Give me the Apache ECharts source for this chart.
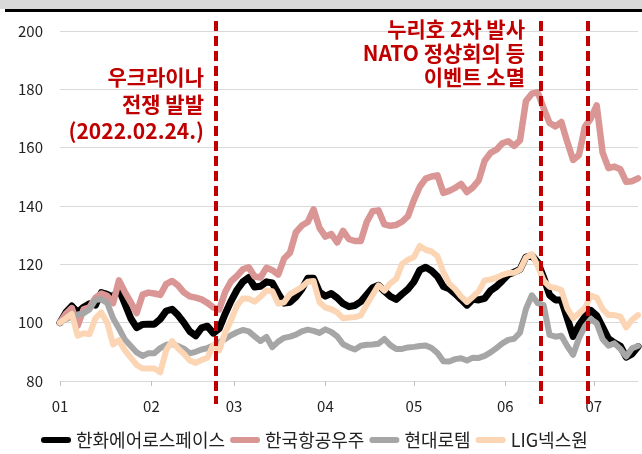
<!DOCTYPE html>
<html>
<head>
<meta charset="utf-8">
<script src="https://cdn.jsdelivr.net/npm/echarts@6/dist/echarts.min.js"></script>
<style>
  html, body { margin: 0; padding: 0; background: #fff; }
  #main { width: 642px; height: 454px; }
</style>
</head>
<body>
<div id="main"></div>
<script>
// 2022, 2-day samples (MM-DD)
const dates = [
  '01-01', '01-03', '01-05', '01-07', '01-09', '01-11', '01-13', '01-15', '01-17', '01-19', '01-21', '01-23', '01-25', '01-27', '01-29', '01-31',
  '02-02', '02-04', '02-06', '02-08', '02-10', '02-12', '02-14', '02-16', '02-18', '02-20', '02-22', '02-24', '02-26', '02-28',
  '03-02', '03-04', '03-06', '03-08', '03-10', '03-12', '03-14', '03-16', '03-18', '03-20', '03-22', '03-24', '03-26', '03-28', '03-30',
  '04-01', '04-03', '04-05', '04-07', '04-09', '04-11', '04-13', '04-15', '04-17', '04-19', '04-21', '04-23', '04-25', '04-27', '04-29',
  '05-01', '05-03', '05-05', '05-07', '05-09', '05-11', '05-13', '05-15', '05-17', '05-19', '05-21', '05-23', '05-25', '05-27', '05-29', '05-31',
  '06-02', '06-04', '06-06', '06-08', '06-10', '06-12', '06-14', '06-16', '06-18', '06-20', '06-22', '06-24', '06-26', '06-28', '06-30',
  '07-02', '07-04', '07-06', '07-08', '07-10', '07-12', '07-14', '07-16'
]

const hanwha = [
  100, 103.5, 105.7, 103.5, 105.3, 106.5, 106, 110.3, 109.7, 108.8, 111.5, 106.5, 101.5, 98.3, 99.4, 99.5,
  99.5, 101.2, 104, 104.6, 102.6, 100, 97, 95.5, 98.2, 98.8, 96.4, 98, 103, 107.4,
  111.2, 114, 115.5, 112.2, 112.5, 114, 113.6, 110, 106.7, 107, 108.8, 111.5, 115.2, 115.2, 110.5,
  109.1, 110, 108.5, 106.5, 105.5, 105.9, 107.2, 109.6, 112, 112.8, 110.8, 109, 108, 109.8, 111.5,
  114, 118, 119, 117.8, 115.8, 112.4, 111.6, 109.9, 108, 106, 108, 107.8, 108.3, 111, 112.4, 114.4,
  116.5, 117.3, 118.3, 122.5, 123, 120.7, 115.5, 109.5, 107.8, 107.8, 101.5, 95.3, 99.2, 102, 104.2,
  102.4, 98.5, 94.5, 93.1, 92, 88.2, 89.3, 91.8
]

const kai = [
  100, 103, 105, 99, 104.6, 105.3, 108.5, 110, 109.2, 106.7, 114.5, 110.5, 107, 103.3, 109.6, 110.3,
  110, 109.5, 113.2, 114.3, 112.8, 110.4, 109, 108.6, 108, 106.8, 105.2, 104.5, 110.5, 114.2,
  116, 118.3, 119, 115.8, 115.5, 118.8, 118, 116.5, 122, 124, 131, 133.3, 134.5, 138.8, 132.5,
  129.5, 130.4, 127.5, 131.5, 128.6, 128, 128, 134.5, 138.2, 138.5, 133.7, 133.2, 133.5, 134.6, 136.5,
  142, 146.6, 149.4, 150.1, 150.5, 144.5, 145.2, 146.2, 147.6, 144.8, 146.4, 148.8, 155.5, 158.2, 159.3, 161.5,
  162.2, 160.6, 162.5, 176, 178.5, 179, 173.5, 168.5, 167.3, 168.8, 162, 155.8, 157.5, 167.2, 170,
  174.5, 158.3, 153, 153.5, 152.6, 148.3, 148.5, 149.5
]

const rotem = [
  100, 101.2, 102, 102.8, 103.2, 104.5, 107.8, 108, 106.8, 101.5, 98, 94.2, 92, 89.8, 88.6, 89.5,
  89.5, 91.3, 92.4, 92.7, 92, 91.1, 89.5, 90, 90.8, 91.3, 92.2, 93.3, 94.4, 95.7,
  96.7, 97.5, 97, 95.3, 93.7, 95.1, 91.6, 93.5, 94.8, 95.2, 95.9, 97, 97.6, 97.2, 96.5,
  97.7, 96.8, 95.3, 92.6, 91.6, 90.8, 92.1, 92.4, 92.5, 92.8, 94.4, 92.3, 91, 91, 91.5,
  91.7, 92, 92.2, 91.3, 89.6, 86.8, 86.7, 87.5, 87.8, 87, 88, 87.9, 88.6, 89.8, 91.3, 92.9,
  94.1, 94.5, 96.6, 104.7, 109.4, 106.7, 106, 95.8, 95.2, 95.5, 92, 89, 94.7, 98.7, 101.2,
  99.8, 94.3, 92.1, 92.9, 91, 88.4, 91.2, 92
]

const lig = [
  100, 101.5, 103, 95.5, 96.4, 96, 101.5, 103.5, 100, 92.5, 94, 90.5, 88, 85.5, 84.3, 84.3,
  84.3, 83, 90.5, 93.7, 91.2, 89.3, 87, 86.2, 87.2, 88, 92.4, 90.5, 96.5, 100.8,
  105.8, 108.3, 108.2, 107.2, 108.9, 111, 110.8, 106.5, 107, 109.8, 111, 112.2, 114, 114.3, 107,
  105.2, 104.6, 103.5, 101.5, 101.8, 101.9, 102.5, 106.2, 109.5, 112.8, 111, 113.5, 115, 120.1, 121.6,
  122.5, 126.3, 125, 124.4, 122.8, 117.3, 113.4, 111.5, 109, 107.1, 108.9, 110.8, 114.5, 114.8, 115.4, 116.4,
  117, 117.1, 118.2, 122.3, 123.5, 119.5, 114.4, 112.3, 111.9, 111.2, 104.9, 101.5, 103.2, 105, 109.3,
  108.6, 104.7, 102.6, 102.6, 102.1, 98.4, 101, 102.6
]

const seriesNames = ['한화에어로스페이스', '한국항공우주', '현대로템', 'LIG넥스원']
const seriesColors = ['#000000', '#d99694', '#a6a6a6', '#fcd5b5']

const monthTicks = ['01-01', '02-01', '03-01', '04-01', '05-01', '06-01', '07-01']
const monthLabels = ['01', '02', '03', '04', '05', '06', '07']
const endDate = '07-16'

const yMin = 80
const yMax = 200
const yStep = 20

const eventDates = ['02-23', '06-13', '06-29']
const notes = [
  { text: '우크라이나\n전쟁 발발\n(2022.02.24.)', x: 204, y: 64, lineHeight: 27 },
  { text: '누리호 2차 발사\nNATO 정상회의 등\n이벤트 소멸', x: 525, y: 17, lineHeight: 24 }
]

const FONT = '"Noto Sans CJK KR", "Noto Sans", sans-serif'
const RED = '#c00000'

// day offset from Jan 1
const dayOf = (s) => {
  const [m, d] = s.split('-').map(Number)
  return (Date.UTC(2022, m - 1, d) - Date.UTC(2022, 0, 1)) / 864e5
}

const tickDays = monthTicks.map(dayOf)

const makeLine = (name, values, color, width) => ({
  name,
  type: 'line',
  data: values.map((v, i) => [dayOf(dates[i]), v]),
  showSymbol: false,
  symbol: 'none',
  animation: false,
  lineStyle: { color, width, cap: 'round', join: 'round' },
  itemStyle: { color }
})

const pill = 'path://M3,0 H27 A3,3 0 0 1 27,6 H3 A3,3 0 0 1 3,0 Z'

const chart = echarts.init(document.getElementById('main'))

chart.setOption({
  animation: false,
  grid: { left: 60, right: 4, top: 31, bottom: 73, outerBoundsMode: 'none' },
  legend: {
    data: seriesNames.map((n) => ({ name: n, icon: pill })),
    left: 36,
    top: 426,
    itemWidth: 30,
    itemHeight: 7,
    itemGap: 5,
    textStyle: { fontFamily: FONT, fontSize: 18, color: '#222' }
  },
  xAxis: {
    type: 'value',
    min: 0,
    max: dayOf(endDate),
    splitLine: { show: false },
    axisLine: { show: true, lineStyle: { color: '#d9d9d9', width: 1 } },
    axisTick: {
      show: true,
      customValues: tickDays,
      length: 5,
      lineStyle: { color: '#bfbfbf' }
    },
    axisLabel: {
      customValues: tickDays,
      margin: 18,
      fontFamily: FONT,
      fontSize: 15,
      color: '#222',
      formatter: (v) => monthLabels[tickDays.indexOf(v)] || ''
    }
  },
  yAxis: {
    type: 'value',
    min: yMin,
    max: yMax,
    interval: yStep,
    axisLine: { show: false },
    axisTick: { show: false },
    splitLine: { lineStyle: { color: '#d9d9d9', width: 1 } },
    axisLabel: { margin: 17, fontFamily: FONT, fontSize: 15, color: '#222' }
  },
  series: [
    makeLine(seriesNames[0], hanwha, seriesColors[0], 7),
    makeLine(seriesNames[1], kai, seriesColors[1], 6.5),
    makeLine(seriesNames[2], rotem, seriesColors[2], 6),
    makeLine(seriesNames[3], lig, seriesColors[3], 6)
  ]
})

// event lines placed through the x scale
const eventLines = eventDates.map((d, i) => {
  const x = Math.round(chart.convertToPixel({ gridIndex: 0 }, [dayOf(d), yMin])[0])
  return {
    id: 'ev' + i,
    type: 'line',
    z: 100,
    shape: { x1: x, y1: 21, x2: x, y2: 404 },
    style: { stroke: RED, lineWidth: 4, lineDash: [10, 5] }
  }
})

const noteTexts = notes.map((n, i) => ({
  id: 'note' + i,
  type: 'text',
  z: 100,
  style: {
    text: n.text,
    x: n.x,
    y: n.y,
    align: 'right',
    verticalAlign: 'top',
    lineHeight: n.lineHeight,
    fill: RED,
    font: 'bold 21px ' + FONT
  }
}))

chart.setOption({
  graphic: [
    { id: 'band', type: 'rect', shape: { x: 0, y: 0, width: 642, height: 9 }, style: { fill: '#d9d9d9' } },
    { id: 'rule', type: 'rect', shape: { x: 5, y: 9, width: 637, height: 3 }, style: { fill: '#000' } },
    ...eventLines,
    ...noteTexts
  ]
})
</script>
</body>
</html>
